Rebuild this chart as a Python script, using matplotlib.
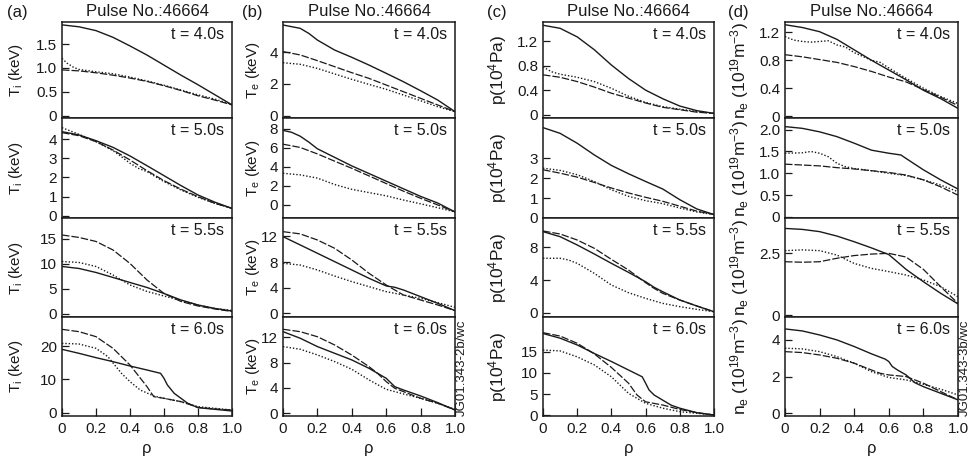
import matplotlib
matplotlib.use('Agg')
import matplotlib.pyplot as plt

plt.rcParams['font.family'] = ['Liberation Sans', 'DejaVu Sans']
plt.rcParams['mathtext.default'] = 'regular'

# ---------------- data ----------------
rho11 = [0, .1, .2, .3, .4, .5, .6, .7, .8, .9, 1.0]
times = ['t = 4.0s', 't = 5.0s', 't = 5.5s', 't = 6.0s']
pulse_title = 'Pulse No.:46664'
col_tags = ['(a)', '(b)', '(c)', '(d)']
ylabels = ['T$_i$ (keV)', 'T$_e$ (keV)', 'p(10$^4$Pa)', 'n$_e$ (10$^{19}$m$^{-3}$)']
xticks = [0, 0.2, 0.4, 0.6, 0.8, 1.0]
xticklabels = ['0', '0.2', '0.4', '0.6', '0.8', '1.0']
codes = ['JG01.343-2b/wc', 'JG01.343-3b/wc']

# (a) ion temperature
a1_solid = [1.90, 1.86, 1.78, 1.64, 1.46, 1.27, 1.06, 0.85, 0.65, 0.44, 0.23]
a1_dashed = [0.96, 0.94, 0.90, 0.85, 0.79, 0.72, 0.63, 0.53, 0.42, 0.33, 0.23]
a1_dot_rho = [0, .03, .07, .1, .2, .3, .4, .5, .6, .7, .8, .9, 1]
a1_dotted = [1.20, 1.10, 1.01, 0.97, 0.92, 0.88, 0.81, 0.73, 0.64, 0.54, 0.44, 0.35, 0.24]

a2_solid = [4.39, 4.22, 3.92, 3.57, 3.12, 2.61, 2.09, 1.57, 1.08, 0.70, 0.38]
a2_dashed = [4.34, 4.18, 3.87, 3.43, 2.91, 2.35, 1.83, 1.38, 0.99, 0.64, 0.38]
a2_dot_rho = [0, .1, .2, .3, .35, .4, .45, .5, .6, .7, .8, .9, 1]
a2_dotted = [4.60, 4.25, 3.87, 3.40, 3.08, 2.74, 2.47, 2.30, 1.78, 1.34, 0.96, 0.64, 0.38]

a3_solid = [9.5, 9.1, 8.3, 7.3, 6.3, 5.3, 4.1, 2.8, 1.8, 1.1, 0.6]
a3_dashed = [15.8, 15.3, 14.5, 12.8, 10.1, 6.8, 4.1, 2.5, 1.6, 1.0, 0.5]
a3_dotted = [10.5, 10.3, 9.5, 7.8, 5.8, 4.5, 3.6, 2.7, 1.8, 1.1, 0.7]

a4_sol_rho = [0, .1, .2, .3, .4, .5, .58, .6, .62, .66, .7, .74, .8, .9, 1]
a4_solid = [19.0, 17.8, 16.5, 15.3, 14.0, 12.8, 11.8, 10.3, 8.3, 5.8, 4.3, 2.8, 1.5, 1.0, 0.5]
a4_das_rho = [0, .1, .2, .3, .4, .5, .54, .6, .7, .8, .9, 1]
a4_dashed = [25.0, 24.3, 22.8, 19.3, 14.3, 7.8, 4.8, 4.3, 3.3, 1.6, 1.1, 0.8]
a4_dot_rho = [0, .1, .2, .27, .35, .4, .46, .54, .6, .7, .8, .9, 1]
a4_dotted = [20.8, 20.6, 19.3, 16.8, 11.8, 9.3, 6.8, 5.0, 4.3, 3.3, 1.8, 1.3, 0.8]

# (b) electron temperature
b1_sol_rho = [0, .1, .15, .2, .3, .4, .5, .6, .7, .8, .9, 1]
b1_solid = [5.72, 5.51, 5.19, 4.77, 4.14, 3.68, 3.19, 2.67, 2.14, 1.57, 0.98, 0.25]
b1_dashed = [4.04, 3.83, 3.47, 3.09, 2.71, 2.35, 1.93, 1.51, 1.09, 0.67, 0.25]
b1_dotted = [3.34, 3.24, 2.98, 2.63, 2.29, 1.97, 1.66, 1.30, 0.94, 0.56, 0.25]

b2_sol_rho = [0, .05, .1, .15, .2, .3, .4, .5, .6, .7, .8, .9, 1]
b2_solid = [7.83, 7.63, 7.22, 6.6, 5.9, 5.0, 4.1, 3.3, 2.5, 1.7, 0.9, 0.2, -0.73]
b2_dashed = [6.38, 6.04, 5.36, 4.6, 3.85, 3.05, 2.25, 1.45, 0.7, 0.0, -0.73]
b2_dotted = [3.33, 3.16, 2.82, 2.15, 1.64, 1.30, 0.96, 0.52, 0.12, -0.29, -0.73]

b3_rho = [0, .1, .2, .3, .4, .5, .6, .65, .7, .8, .9, 1]
b3_solid = [11.97, 10.68, 9.38, 8.08, 6.78, 5.48, 4.29, 4.08, 3.66, 2.62, 1.58, 0.44]
b3_dashed = [12.75, 12.4, 11.45, 10.16, 8.34, 6.26, 4.44, 3.66, 2.88, 2.1, 1.32, 0.44]
b3_dotted = [7.81, 7.55, 6.78, 5.84, 4.96, 4.18, 3.4, 2.88, 2.36, 1.69, 0.96]

b4_sol_rho = [0, .1, .2, .3, .4, .5, .6, .65, .7, .8, .9, 1]
b4_solid = [12.9, 11.86, 10.54, 9.48, 8.43, 7.1, 5.52, 4.2, 3.68, 2.73, 1.67, 0.51]
b4_das_rho = [0, .1, .2, .3, .4, .5, .55, .6, .65, .7, .8, .9, 1]
b4_dashed = [13.28, 12.9, 12.1, 10.8, 9.2, 7.37, 6.3, 5.0, 3.94, 3.42, 2.36, 1.57, 0.51]
b4_dotted = [10.54, 10.12, 9.22, 8.17, 6.95, 5.27, 3.78, 3.05, 2.36, 1.57, 0.62]

# (c) pressure
c1_solid = [1.46, 1.41, 1.27, 1.06, 0.81, 0.59, 0.40, 0.26, 0.14, 0.065, 0.02]
c1_dashed = [0.65, 0.61, 0.54, 0.45, 0.35, 0.27, 0.19, 0.12, 0.08, 0.04, 0.02]
c1_dot_rho = [0, .05, .1, .2, .3, .4, .5, .6, .7, .8, .9, 1]
c1_dotted = [0.78, 0.70, 0.66, 0.61, 0.54, 0.43, 0.30, 0.20, 0.13, 0.09, 0.05, 0.02]

c2_solid = [4.56, 4.27, 3.77, 3.18, 2.65, 2.23, 1.84, 1.46, 0.92, 0.45, 0.17]
c2_dashed = [2.43, 2.26, 2.06, 1.79, 1.51, 1.26, 1.04, 0.84, 0.59, 0.34, 0.17]
c2_dotted = [2.51, 2.40, 2.18, 1.84, 1.42, 1.09, 0.87, 0.72, 0.50, 0.30, 0.17]

c3_rho = [0, .1, .2, .3, .4, .5, .6, .65, .7, .8, .9, 1]
c3_solid = [9.95, 9.33, 8.31, 7.2, 6.05, 4.94, 3.79, 3.10, 2.56, 1.54, 0.8, 0.1]
c3_dashed = [10.03, 9.66, 8.92, 7.9, 6.54, 5.23, 3.67, 2.97, 2.36, 1.54, 0.8, 0.1]
c3_dot_rho = [0, .1, .15, .2, .3, .4, .5, .6, .7, .8, .9, 1]
c3_dotted = [6.67, 6.67, 6.46, 6.05, 4.82, 3.38, 2.44, 1.74, 1.13, 0.72, 0.39, 0.1]

c4_sol_rho = [0, .1, .2, .3, .4, .5, .58, .6, .62, .65, .7, .75, .8, .9, 1]
c4_solid = [19.3, 18.2, 16.6, 14.6, 12.7, 10.7, 9.1, 7.6, 6.0, 4.8, 3.6, 2.4, 1.7, 0.64, 0.1]
c4_das_rho = [0, .1, .2, .3, .4, .5, .55, .6, .7, .8, .9, 1]
c4_dashed = [19.5, 18.7, 17.0, 14.5, 11.3, 7.6, 4.8, 3.2, 2.45, 1.4, 0.64, 0.1]
c4_dotted = [15.4, 15.2, 13.8, 11.9, 9.1, 5.2, 2.85, 1.7, 0.88, 0.5, 0.1]

# (d) electron density
d1_solid = [1.31, 1.27, 1.21, 1.10, 0.95, 0.80, 0.66, 0.52, 0.37, 0.25, 0.11]
d1_dashed = [0.88, 0.85, 0.81, 0.77, 0.71, 0.64, 0.56, 0.49, 0.38, 0.27, 0.15]
d1_dot_rho = [0, .05, .1, .15, .2, .25, .3, .35, .4, .5, .55, .6, .7, .8, .9, 1]
d1_dotted = [1.14, 1.09, 1.07, 1.06, 1.07, 1.08, 1.02, 0.99, 0.91, 0.80, 0.77, 0.69, 0.54, 0.40, 0.28, 0.18]

d2_sol_rho = [0, .1, .2, .3, .4, .5, .6, .67, .7, .8, .9, 1]
d2_solid = [2.07, 2.03, 1.95, 1.84, 1.69, 1.53, 1.46, 1.42, 1.34, 1.08, 0.85, 0.64]
d2_dashed = [1.21, 1.19, 1.17, 1.13, 1.10, 1.06, 1.02, 0.96, 0.85, 0.69, 0.50]
d2_dot_rho = [0, .1, .15, .2, .25, .3, .35, .4, .5, .6, .7, .8, .9, 1]
d2_dotted = [1.46, 1.47, 1.50, 1.46, 1.38, 1.23, 1.15, 1.11, 1.06, 1.0, 0.95, 0.85, 0.73, 0.58]

d3_solid = [3.51, 3.47, 3.38, 3.2, 2.97, 2.72, 2.45, 1.85, 1.35, 0.88, 0.45]
d3_dashed = [2.16, 2.14, 2.16, 2.3, 2.41, 2.47, 2.5, 2.35, 1.85, 1.15, 0.47]
d3_dotted = [2.61, 2.64, 2.61, 2.43, 2.09, 1.89, 1.76, 1.62, 1.42, 1.15, 0.74]

d4_sol_rho = [0, .1, .2, .3, .4, .5, .58, .6, .62, .65, .7, .75, .8, .9, 1]
d4_solid = [4.6, 4.49, 4.27, 4.0, 3.64, 3.24, 2.95, 2.82, 2.55, 2.36, 2.09, 1.67, 1.45, 1.09, 0.73]
d4_das_rho = [0, .1, .2, .3, .4, .5, .55, .6, .7, .8, .9, 1]
d4_dashed = [3.36, 3.31, 3.18, 3.0, 2.73, 2.36, 2.18, 2.09, 2.0, 1.64, 1.18, 0.73]
d4_dotted = [3.55, 3.51, 3.36, 3.09, 2.73, 2.27, 1.95, 1.82, 1.58, 1.31, 1.0]

# y ticks per panel (column, row)
yticks = [
    [([0, 0.5, 1.0, 1.5], ['0', '0.5', '1.0', '1.5']), ([0, 1, 2, 3, 4], None),
     ([0, 5, 10, 15], None), ([0, 10, 20], None)],
    [([0, 2, 4], None), ([0, 2, 4, 6, 8], None), ([0, 4, 8, 12], None), ([0, 4, 8, 12], None)],
    [([0, 0.4, 0.8, 1.2], ['0', '0.4', '0.8', '1.2']), ([0, 1, 2, 3], None),
     ([0, 4, 8], None), ([0, 5, 10, 15], None)],
    [([0, 0.4, 0.8, 1.2], ['0', '0.4', '0.8', '1.2']),
     ([0, 0.5, 1.0, 1.5, 2.0], ['0', '0.5', '1.0', '1.5', '2.0']),
     ([0, 2.5], ['0', '2.5']), ([0, 2, 4], None)],
]
ylims = [
    [(-0.05, 1.96), (-0.14, 5.09), (-0.6, 19.13), (-1.0, 28.7)],
    [(-0.17, 5.91), (-1.4, 9.1), (-0.55, 14.83), (-0.44, 15.22)],
    [(-0.06, 1.513), (-0.02, 5.03), (-0.55, 11.59), (-0.14, 23.19)],
    [(-0.032, 1.349), (-0.03, 2.26), (-0.08, 3.92), (-0.15, 5.25)],
]

curves = [
    [[(rho11, a1_solid), (rho11, a1_dashed), (a1_dot_rho, a1_dotted)],
     [(rho11, a2_solid), (rho11, a2_dashed), (a2_dot_rho, a2_dotted)],
     [(rho11, a3_solid), (rho11, a3_dashed), (rho11, a3_dotted)],
     [(a4_sol_rho, a4_solid), (a4_das_rho, a4_dashed), (a4_dot_rho, a4_dotted)]],
    [[(b1_sol_rho, b1_solid), (rho11, b1_dashed), (rho11, b1_dotted)],
     [(b2_sol_rho, b2_solid), (rho11, b2_dashed), (rho11, b2_dotted)],
     [(b3_rho, b3_solid), (b3_rho, b3_dashed), (rho11, b3_dotted)],
     [(b4_sol_rho, b4_solid), (b4_das_rho, b4_dashed), (rho11, b4_dotted)]],
    [[(rho11, c1_solid), (rho11, c1_dashed), (c1_dot_rho, c1_dotted)],
     [(rho11, c2_solid), (rho11, c2_dashed), (rho11, c2_dotted)],
     [(c3_rho, c3_solid), (c3_rho, c3_dashed), (c3_dot_rho, c3_dotted)],
     [(c4_sol_rho, c4_solid), (c4_das_rho, c4_dashed), (rho11, c4_dotted)]],
    [[(rho11, d1_solid), (rho11, d1_dashed), (d1_dot_rho, d1_dotted)],
     [(d2_sol_rho, d2_solid), (rho11, d2_dashed), (d2_dot_rho, d2_dotted)],
     [(rho11, d3_solid), (rho11, d3_dashed), (rho11, d3_dotted)],
     [(d4_sol_rho, d4_solid), (d4_das_rho, d4_dashed), (rho11, d4_dotted)]],
]

# ---------------- layout ----------------
W, H = 974, 463
fig = plt.figure(figsize=(W / 100, H / 100), dpi=100)

col_x = [(62, 232), (283, 455), (543, 714), (785, 958)]
row_y = [(22, 118.3), (118.3, 218.3), (218.3, 317), (317, 416)]
styles = [dict(ls='-', lw=1.0), dict(ls=(0, (6, 1.6)), lw=0.9), dict(ls=(0, (1, 1.4)), lw=1.0)]
ylabel_x = [16, 253, 498, 740]
ylabel_size = [11, 11, 12.5, 12.5]
tag_x = [17, 252, 497, 738]
INK = '#1a1a1a'

for c in range(4):
    x0, x1 = col_x[c]
    for r in range(4):
        y0, y1 = row_y[r]
        ax = fig.add_axes([x0 / W, 1 - y1 / H, (x1 - x0) / W, (y1 - y0) / H])
        for (xs, ys), st in zip(curves[c][r], styles):
            ax.plot(xs, ys, color=INK, **st)
        ax.set_xlim(0, 1.0)
        ax.set_ylim(*ylims[c][r])
        tv, tl = yticks[c][r]
        ax.set_yticks(tv)
        ax.set_yticklabels(tl if tl else [str(v) for v in tv])
        ax.set_xticks(xticks)
        bottom = (r == 3)
        if bottom:
            ax.set_xticklabels(xticklabels)
        else:
            ax.set_xticklabels([])
        ax.tick_params(axis='y', direction='in', length=5, width=0.9, labelsize=11,
                       pad=3.5, colors=INK)
        ax.tick_params(axis='x', direction='in', length=6, width=0.9, labelsize=11,
                       pad=4, bottom=bottom, colors=INK)
        for sp in ax.spines.values():
            sp.set_linewidth(1.1)
            sp.set_color(INK)
        ax.annotate(times[r], xy=(1, 1), xycoords='axes fraction', xytext=(-8, -12.5),
                    textcoords='offset pixels', ha='right', va='center', fontsize=11.5,
                    color=INK)
        fig.text(ylabel_x[c] / W, 1 - (y0 + y1) / 2 / H, ylabels[c], rotation=90,
                 ha='center', va='center', fontsize=ylabel_size[c], color=INK)
    fig.text((x0 + x1) / 2 / W, 1 - 11.5 / H, pulse_title, ha='center', va='center',
             fontsize=12, color=INK)
    fig.text(tag_x[c] / W, 1 - 13 / H, col_tags[c], ha='center', va='center',
             fontsize=12, color=INK)
    fig.text((x0 + x1) / 2 / W, 1 - 449 / H, 'ρ', ha='center', va='center',
             fontsize=12, color=INK)

fig.text(462 / W, 1 - 416 / H, codes[0], rotation=90, ha='center', va='bottom',
         fontsize=9.5, color=INK)
fig.text(965 / W, 1 - 416 / H, codes[1], rotation=90, ha='center', va='bottom',
         fontsize=9.5, color=INK)

fig.savefig('out.png', dpi=100)
